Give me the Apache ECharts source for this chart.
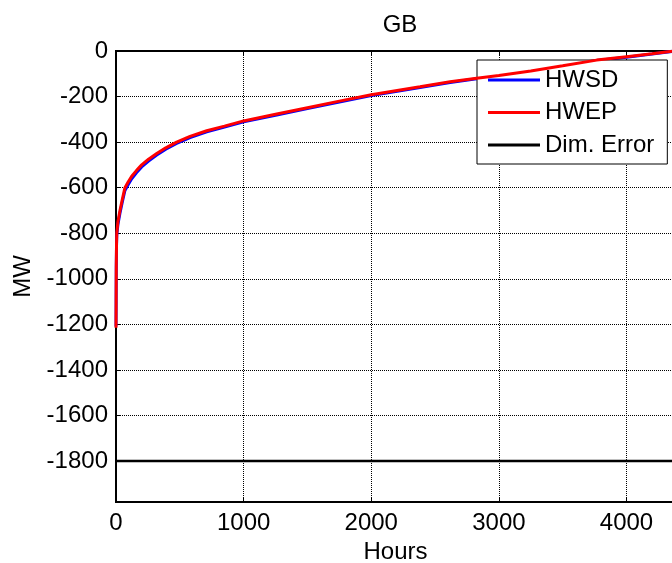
<!DOCTYPE html>
<html>
<head>
<meta charset="utf-8">
<script src="https://cdn.jsdelivr.net/npm/echarts@6/dist/echarts.min.js"></script>
<style>
html,body{margin:0;padding:0;background:#fff;}
#chart{width:672px;height:563px;}
</style>
</head>
<body>
<div id="chart"></div>
<script>
// ---- data ----
const titleText = 'GB';
const xName = 'Hours';
const yName = 'MW';
const seriesNames = ['HWSD', 'HWEP', 'Dim. Error'];
const hours = [0, 1, 2, 4, 6, 15, 31, 50, 70, 95, 123, 160, 201, 255, 319, 390, 475, 580, 711, 850, 1000, 1250, 1500, 1750, 2000, 2382, 2618, 2826, 3000, 3250, 3500, 3766, 4000, 4200, 4380];
const hwsd = [-1210, -1100, -960, -860, -810, -762, -712, -662, -612, -587, -561, -535, -509, -483, -457, -431, -406, -380, -355, -334, -311, -282, -253, -224, -196, -160, -138, -122, -110, -90, -67, -42, -27, -13, 0];
const hwep = [-1215, -1100, -950, -850, -800, -750, -700, -650, -600, -575, -550, -525, -500, -475, -450, -425, -400, -375, -350, -330, -307, -278, -249, -220, -192, -157, -135, -120, -108, -88, -65, -40, -25, -12, 0];
const dimHours = [0, 4380];
const dimError = [-1800, -1800];
const xRange = [0, 4380];
const yRange = [-1980, 0];

function pairs(xs, ys) { return xs.map((x, i) => [x, ys[i]]); }
const plain = v => String(v);

const FONT = '"Liberation Sans", Arial, sans-serif';
const chart = echarts.init(document.getElementById('chart'), null, {renderer: 'canvas'});
chart.setOption({
  animation: false,
  backgroundColor: '#fff',
  title: {
    text: titleText,
    left: 395,
    top: 8,
    textAlign: 'center',
    textStyle: {fontFamily: FONT, fontSize: 24, fontWeight: 'normal', color: '#000'}
  },
  legend: {
    orient: 'vertical',
    left: 477,
    top: 60,
    padding: [8, 13, 7, 11],
    icon: 'rect',
    itemWidth: 52,
    itemHeight: 3,
    itemGap: 8.5,
    backgroundColor: '#fff',
    borderColor: '#000',
    borderWidth: 1,
    borderRadius: 0,
    textStyle: {fontFamily: FONT, fontSize: 24, color: '#000', lineHeight: 24},
    data: seriesNames
  },
  grid: {
    left: 116, top: 51, width: 559, height: 451,
    show: true, borderColor: '#000', borderWidth: 2, backgroundColor: '#fff',
    containLabel: false,
    outerBoundsMode: 'none'
  },
  xAxis: [{
    type: 'value', min: xRange[0], max: xRange[1], interval: 1000,
    name: xName, nameLocation: 'middle', nameGap: 38,
    nameTextStyle: {fontFamily: FONT, fontSize: 24, color: '#000'},
    axisLine: {show: true, onZero: false, lineStyle: {color: '#000', width: 2}},
    axisTick: {show: true, inside: true, length: 5, lineStyle: {color: '#000', width: 1}},
    axisLabel: {fontFamily: FONT, fontSize: 24, color: '#000', margin: 9, showMaxLabel: false, formatter: plain},
    splitLine: {show: true, lineStyle: {color: '#000', width: 1, type: [1, 1]}}
  }, {
    type: 'value', position: 'top', min: xRange[0], max: xRange[1], interval: 1000,
    axisLine: {show: true, onZero: false, lineStyle: {color: '#000', width: 2}},
    axisTick: {show: true, inside: true, length: 5, lineStyle: {color: '#000', width: 1}},
    axisLabel: {show: false},
    splitLine: {show: false}
  }],
  yAxis: {
    type: 'value', min: yRange[0], max: yRange[1], splitNumber: 10,
    name: yName, nameLocation: 'middle', nameGap: 80, nameRotate: 90,
    nameTextStyle: {fontFamily: FONT, fontSize: 24, color: '#000'},
    axisLine: {show: true, onZero: false, lineStyle: {color: '#000', width: 2}},
    axisTick: {show: true, inside: true, length: 5, lineStyle: {color: '#000', width: 1}},
    axisLabel: {fontFamily: FONT, fontSize: 24, color: '#000', margin: 8, showMinLabel: false, formatter: plain},
    splitLine: {show: true, lineStyle: {color: '#000', width: 1, type: [1, 1]}}
  },
  series: [{
    name: seriesNames[0], type: 'line', symbol: 'none', xAxisIndex: 0,
    data: pairs(hours, hwsd),
    lineStyle: {color: '#0000ff', width: 3}, itemStyle: {color: '#0000ff'}, z: 3
  }, {
    name: seriesNames[1], type: 'line', symbol: 'none', xAxisIndex: 0,
    data: pairs(hours, hwep),
    lineStyle: {color: '#ff0000', width: 3}, itemStyle: {color: '#ff0000'}, z: 4
  }, {
    name: seriesNames[2], type: 'line', symbol: 'none', xAxisIndex: 0,
    data: pairs(dimHours, dimError),
    lineStyle: {color: '#000000', width: 2.5}, itemStyle: {color: '#000000'}, z: 5
  }]
});
</script>
</body>
</html>
